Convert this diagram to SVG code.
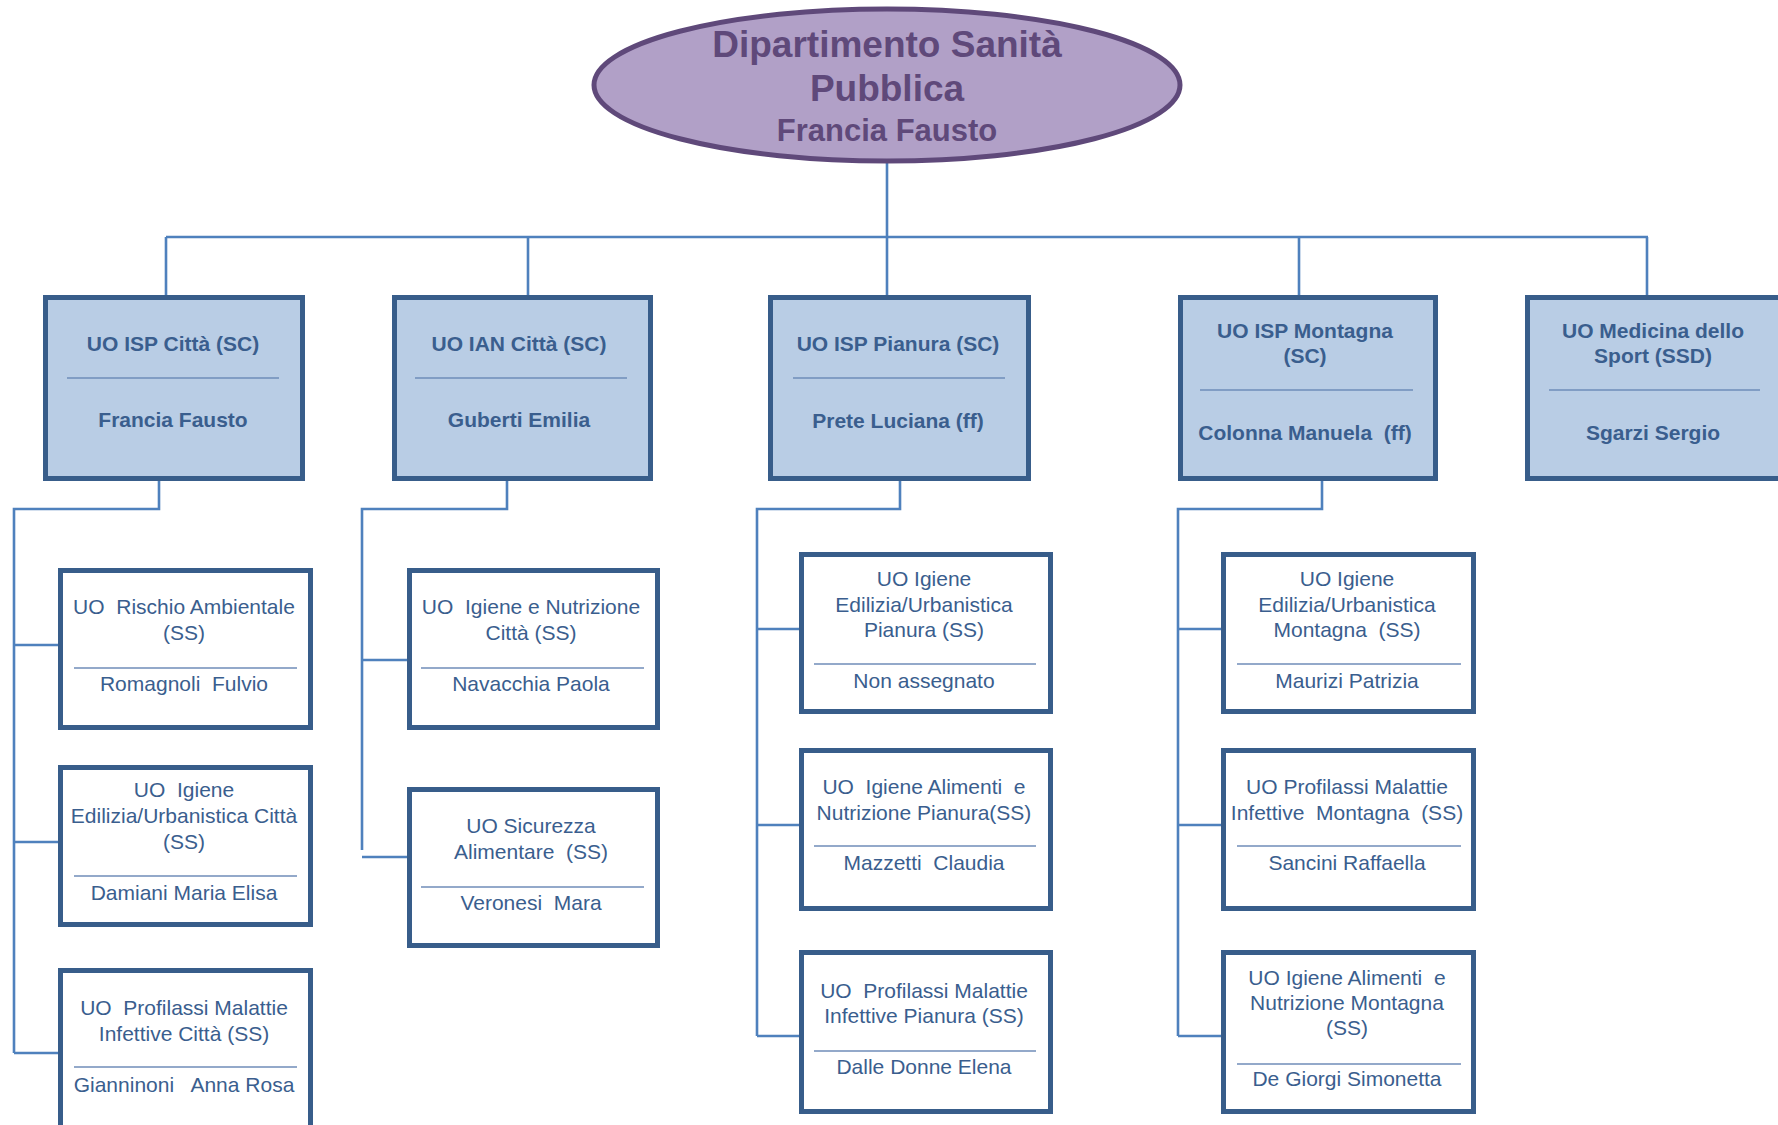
<svg xmlns="http://www.w3.org/2000/svg" width="1778" height="1125" viewBox="0 0 1778 1125">
<style>
.conn{fill:none;stroke:#4F81BD;stroke-width:2.6}
.top{fill:#B9CDE5;stroke:#385D8A;stroke-width:5}
.child{fill:#FFFFFF;stroke:#385D8A;stroke-width:5}
.sep{stroke:#6F8DB8;stroke-width:1.3}
.tb{font-family:"Liberation Sans",Arial,sans-serif;font-size:21px;font-weight:bold;fill:#3A5E8E;text-anchor:middle;white-space:pre}
.tc{font-family:"Liberation Sans",Arial,sans-serif;font-size:21px;fill:#3A5E8E;text-anchor:middle;white-space:pre}
.te{font-family:"Liberation Sans",Arial,sans-serif;font-weight:bold;fill:#5F497A;text-anchor:middle}
</style>
<rect width="1778" height="1125" fill="#FFFFFF"/>
<g id="connectors">
<path class="conn" d="M887,161 V237 M166,237 H1648 M166,237 V295 M528,237 V295 M887,237 V295 M1299,237 V295 M1647,237 V295"/>
<path class="conn" d="M159,481 V509 H14 V1053 M14,645 H59 M14,842 H59 M14,1053 H59"/>
<path class="conn" d="M507,481 V509 H362 V850 M362,660 H407 M362,857 H407"/>
<path class="conn" d="M900,481 V509 H757 V1036 M757,629 H801 M757,825 H801 M757,1036 H801"/>
<path class="conn" d="M1322,481 V509 H1178 V1036 M1178,629 H1222 M1178,825 H1222 M1178,1036 H1222"/>
</g>
<g id="root">
<ellipse cx="887" cy="85" rx="293" ry="76" fill="#B1A0C7" stroke="#5F497A" stroke-width="5"/>
<text class="te" x="887" y="57" font-size="37">Dipartimento Sanità</text>
<text class="te" x="887" y="101" font-size="37">Pubblica</text>
<text class="te" x="887" y="141" font-size="31">Francia Fausto</text>
</g>
<g id="isp-citta">
<rect class="top" x="45.5" y="297.5" width="257" height="181"/>
<text class="tb" x="173" y="351">UO ISP Città (SC)</text>
<line class="sep" x1="67" y1="378" x2="279" y2="378"/>
<text class="tb" x="173" y="427">Francia Fausto</text>
</g>
<g id="ian-citta">
<rect class="top" x="394.5" y="297.5" width="256" height="181"/>
<text class="tb" x="519" y="351">UO IAN Città (SC)</text>
<line class="sep" x1="415" y1="378" x2="627" y2="378"/>
<text class="tb" x="519" y="427">Guberti Emilia</text>
</g>
<g id="isp-pianura">
<rect class="top" x="770.5" y="297.5" width="258" height="181"/>
<text class="tb" x="898" y="351">UO ISP Pianura (SC)</text>
<line class="sep" x1="793" y1="378" x2="1005" y2="378"/>
<text class="tb" x="898" y="428">Prete Luciana (ff)</text>
</g>
<g id="isp-montagna">
<rect class="top" x="1180.5" y="297.5" width="255" height="181"/>
<text class="tb" x="1305" y="338">UO ISP Montagna</text>
<text class="tb" x="1305" y="363">(SC)</text>
<line class="sep" x1="1200" y1="390" x2="1413" y2="390"/>
<text class="tb" x="1305" y="440">Colonna Manuela  (ff)</text>
</g>
<g id="medicina-sport">
<rect class="top" x="1527.5" y="297.5" width="257" height="181"/>
<text class="tb" x="1653" y="338">UO Medicina dello</text>
<text class="tb" x="1653" y="363">Sport (SSD)</text>
<line class="sep" x1="1549" y1="390" x2="1760" y2="390"/>
<text class="tb" x="1653" y="440">Sgarzi Sergio</text>
</g>
<g id="rischio-ambientale">
<rect class="child" x="60.5" y="570.5" width="250" height="157"/>
<text class="tc" x="184" y="614">UO  Rischio Ambientale</text>
<text class="tc" x="184" y="640">(SS)</text>
<line class="sep" x1="74" y1="668" x2="297" y2="668"/>
<text class="tc" x="184" y="691">Romagnoli  Fulvio</text>
</g>
<g id="igiene-edilizia-citta">
<rect class="child" x="60.5" y="767.5" width="250" height="157"/>
<text class="tc" x="184" y="797">UO  Igiene</text>
<text class="tc" x="184" y="823">Edilizia/Urbanistica Città</text>
<text class="tc" x="184" y="849">(SS)</text>
<line class="sep" x1="74" y1="876" x2="297" y2="876"/>
<text class="tc" x="184" y="900">Damiani Maria Elisa</text>
</g>
<g id="profilassi-citta">
<rect class="child" x="60.5" y="970.5" width="250" height="170"/>
<text class="tc" x="184" y="1015">UO  Profilassi Malattie</text>
<text class="tc" x="184" y="1041">Infettive Città (SS)</text>
<line class="sep" x1="74" y1="1067" x2="297" y2="1067"/>
<text class="tc" x="184" y="1092">Gianninoni   Anna Rosa</text>
</g>
<g id="igiene-nutrizione-citta">
<rect class="child" x="409.5" y="570.5" width="248" height="157"/>
<text class="tc" x="531" y="614">UO  Igiene e Nutrizione</text>
<text class="tc" x="531" y="640">Città (SS)</text>
<line class="sep" x1="421" y1="668" x2="644" y2="668"/>
<text class="tc" x="531" y="691">Navacchia Paola</text>
</g>
<g id="sicurezza-alimentare">
<rect class="child" x="409.5" y="789.5" width="248" height="156"/>
<text class="tc" x="531" y="833">UO Sicurezza</text>
<text class="tc" x="531" y="859">Alimentare  (SS)</text>
<line class="sep" x1="421" y1="887" x2="644" y2="887"/>
<text class="tc" x="531" y="910">Veronesi  Mara</text>
</g>
<g id="igiene-edilizia-pianura">
<rect class="child" x="801.5" y="554.5" width="249" height="157"/>
<text class="tc" x="924" y="586">UO Igiene</text>
<text class="tc" x="924" y="612">Edilizia/Urbanistica</text>
<text class="tc" x="924" y="637">Pianura (SS)</text>
<line class="sep" x1="814" y1="664" x2="1036" y2="664"/>
<text class="tc" x="924" y="688">Non assegnato</text>
</g>
<g id="igiene-alimenti-pianura">
<rect class="child" x="801.5" y="750.5" width="249" height="158"/>
<text class="tc" x="924" y="794">UO  Igiene Alimenti  e</text>
<text class="tc" x="924" y="820">Nutrizione Pianura(SS)</text>
<line class="sep" x1="814" y1="846" x2="1036" y2="846"/>
<text class="tc" x="924" y="870">Mazzetti  Claudia</text>
</g>
<g id="profilassi-pianura">
<rect class="child" x="801.5" y="952.5" width="249" height="159"/>
<text class="tc" x="924" y="998">UO  Profilassi Malattie</text>
<text class="tc" x="924" y="1023">Infettive Pianura (SS)</text>
<line class="sep" x1="814" y1="1051" x2="1036" y2="1051"/>
<text class="tc" x="924" y="1074">Dalle Donne Elena</text>
</g>
<g id="igiene-edilizia-montagna">
<rect class="child" x="1223.5" y="554.5" width="250" height="157"/>
<text class="tc" x="1347" y="586">UO Igiene</text>
<text class="tc" x="1347" y="612">Edilizia/Urbanistica</text>
<text class="tc" x="1347" y="637">Montagna  (SS)</text>
<line class="sep" x1="1237" y1="664" x2="1461" y2="664"/>
<text class="tc" x="1347" y="688">Maurizi Patrizia</text>
</g>
<g id="profilassi-montagna">
<rect class="child" x="1223.5" y="750.5" width="250" height="158"/>
<text class="tc" x="1347" y="794">UO Profilassi Malattie</text>
<text class="tc" x="1347" y="820">Infettive  Montagna  (SS)</text>
<line class="sep" x1="1237" y1="846" x2="1461" y2="846"/>
<text class="tc" x="1347" y="870">Sancini Raffaella</text>
</g>
<g id="igiene-alimenti-montagna">
<rect class="child" x="1223.5" y="952.5" width="250" height="159"/>
<text class="tc" x="1347" y="985">UO Igiene Alimenti  e</text>
<text class="tc" x="1347" y="1010">Nutrizione Montagna</text>
<text class="tc" x="1347" y="1035">(SS)</text>
<line class="sep" x1="1237" y1="1064" x2="1461" y2="1064"/>
<text class="tc" x="1347" y="1086">De Giorgi Simonetta</text>
</g>
</svg>
